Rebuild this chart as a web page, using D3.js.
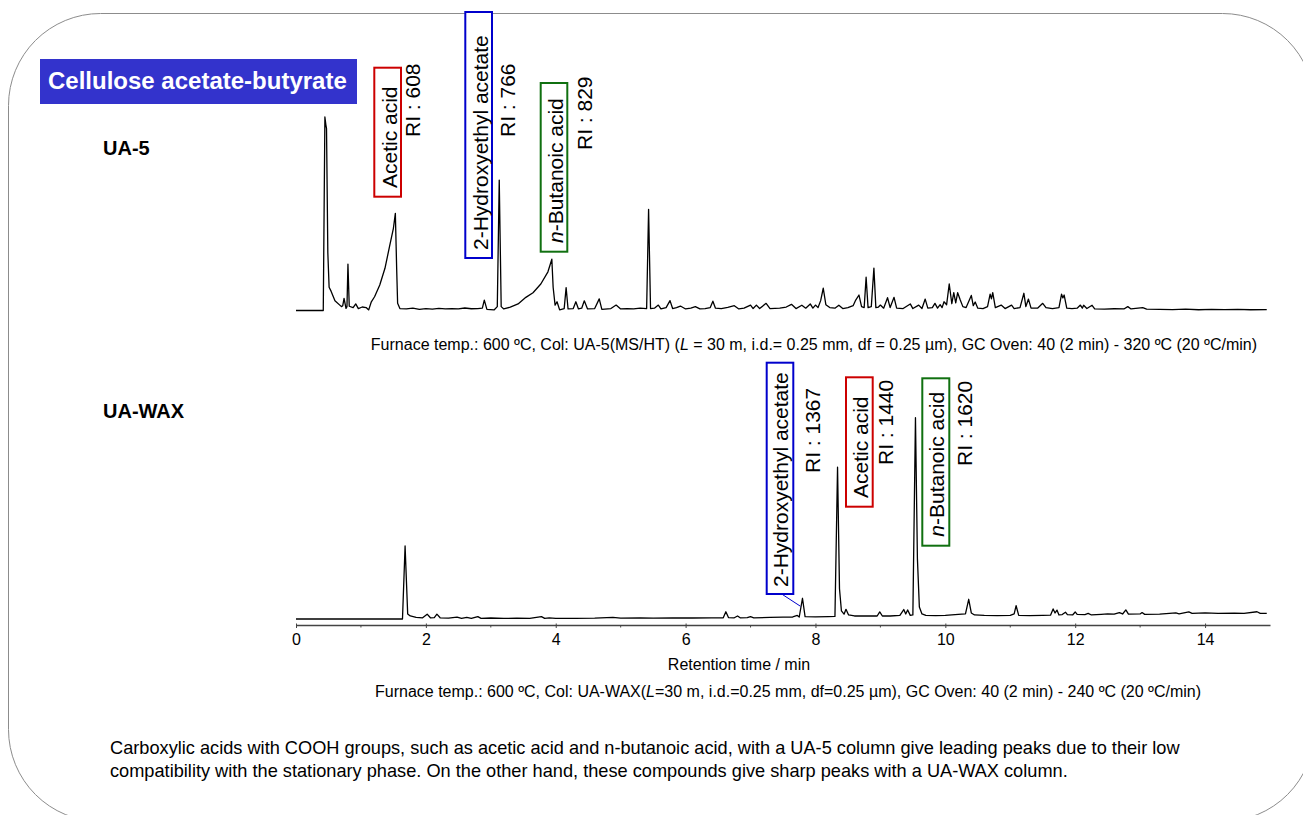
<!DOCTYPE html>
<html>
<head>
<meta charset="utf-8">
<script src="https://cdn.jsdelivr.net/npm/d3@7"></script>
<style>
    body { margin: 0; background: #fff; }
    svg text { font-family: "Liberation Sans", Arial, sans-serif; }
</style>
</head>
<body>
<svg id="chart" width="1303" height="815"></svg>
<script>
"use strict";

// ---- data ----
var sampleName = "Cellulose acetate-butyrate";
var columnNames = ["UA-5", "UA-WAX"];
var compounds = ["Acetic acid", "2-Hydroxyethyl acetate", "n-Butanoic acid"];
var ua5RI = [608, 766, 829];
var waxRI = [1440, 1367, 1620];
var xTicks = [0, 2, 4, 6, 8, 10, 12, 14];
var xMinorTicks = [1, 3, 5, 7, 9, 11, 13];
var xTitle = "Retention time / min";
var captions = [
    "Furnace temp.: 600 ºC, Col: UA-5(MS/HT) (|L| = 30 m, i.d.= 0.25 mm, df = 0.25 µm), GC Oven: 40 (2 min) - 320 ºC (20 ºC/min)",
    "Furnace temp.: 600 ºC, Col: UA-WAX(|L|=30 m, i.d.=0.25 mm, df=0.25 µm), GC Oven: 40 (2 min) - 240 ºC (20 ºC/min)"
];
var note = [
    "Carboxylic acids with COOH groups, such as acetic acid and n-butanoic acid, with a UA-5 column give leading peaks due to their low",
    "compatibility with the stationary phase. On the other hand, these compounds give sharp peaks with a UA-WAX column."
];

// [retention time (min), relative intensity]
var ua5Trace = [
    [0, 0], [0.3, 0], [0.42, 0], [0.445, 100], [0.46, 96], [0.47, 94], [0.49, 30], [0.51, 12], [0.54, 10],
    [0.6, 5], [0.7, 2], [0.72, 2.5], [0.74, 6.3], [0.77, 1.1], [0.785, 2], [0.8, 24], [0.82, 2.2], [0.88, 1.5],
    [0.92, 3.4], [0.96, 1], [1.02, 1.8], [1.08, 1.5], [1.12, 0.3], [1.16, 4.5], [1.21, 7.1], [1.29, 13.2],
    [1.37, 21.8], [1.44, 33], [1.5, 42.5], [1.53, 50.2], [1.55, 22], [1.565, 3.7], [1.6, 1], [1.7, 0.8],
    [1.8, 1.2], [1.9, 0.6], [2.0, 1], [2.1, 0.7], [2.2, 1.1], [2.3, 0.8], [2.4, 1], [2.5, 0.8], [2.6, 1.3],
    [2.7, 0.9], [2.8, 1], [2.87, 1.2], [2.9, 5.4], [2.94, 0.6], [3.05, 0.3], [3.1, 2], [3.13, 67.4], [3.16, 2],
    [3.2, 0.8], [3.3, 1.7], [3.42, 3.4], [3.54, 6.8], [3.65, 9.2], [3.77, 13.7], [3.88, 20], [3.94, 26.5],
    [3.96, 12], [3.99, 2.8], [4.02, 4.5], [4.06, 0.3], [4.13, 1], [4.16, 11.8], [4.19, 0.8], [4.27, 1],
    [4.31, 4.5], [4.35, 0.8], [4.4, 1.2], [4.44, 5], [4.49, 0.8], [4.6, 1], [4.67, 6], [4.71, 0.6], [4.85, 1],
    [4.93, 2.8], [5.0, 0.8], [5.1, 1], [5.2, 0.8], [5.3, 1.2], [5.4, 1], [5.43, 52.3], [5.46, 1], [5.52, 1.2],
    [5.58, 2.8], [5.62, 0.8], [5.7, 1.5], [5.76, 5.1], [5.8, 1], [5.86, 1.5], [5.92, 2.3], [6.0, 0.8],
    [6.08, 1.2], [6.15, 2], [6.22, 0.8], [6.3, 1], [6.38, 1.5], [6.42, 4.8], [6.46, 1.2], [6.55, 1],
    [6.65, 1.6], [6.75, 2.5], [6.82, 0.8], [6.9, 1.2], [7.0, 2.8], [7.04, 1], [7.09, 2.8], [7.14, 1],
    [7.24, 3.7], [7.3, 1], [7.45, 1.2], [7.55, 1.8], [7.63, 3.2], [7.7, 1], [7.79, 2.7], [7.85, 1.2],
    [7.92, 3.4], [7.96, 1.2], [8.0, 2.8], [8.04, 1.5], [8.08, 5.1], [8.12, 11.5], [8.16, 3], [8.22, 1.5],
    [8.3, 1.2], [8.36, 2.7], [8.42, 1], [8.5, 1.5], [8.58, 2.5], [8.62, 5.4], [8.67, 8], [8.71, 2],
    [8.75, 1.5], [8.78, 17.2], [8.81, 1.5], [8.86, 2], [8.9, 21.9], [8.93, 1.5], [8.97, 1.8], [9.0, 2.8],
    [9.05, 1.2], [9.11, 6.6], [9.15, 1.5], [9.21, 6.8], [9.25, 1.2], [9.35, 1], [9.46, 3.4], [9.5, 1],
    [9.59, 2.8], [9.64, 1], [9.69, 5.9], [9.73, 1.2], [9.8, 1.5], [9.84, 3.7], [9.88, 1.2], [9.92, 3],
    [9.95, 1.5], [9.98, 4.5], [10.02, 3], [10.06, 13.7], [10.1, 3.5], [10.13, 9.2], [10.16, 4], [10.19, 9.2],
    [10.23, 5.4], [10.27, 2], [10.32, 1.5], [10.4, 7.8], [10.43, 2.5], [10.46, 4.4], [10.5, 1.2], [10.58, 1],
    [10.65, 2], [10.69, 8.5], [10.71, 6], [10.73, 9.2], [10.77, 1.5], [10.86, 2.8], [10.92, 1], [11.02, 2.8],
    [11.06, 1], [11.15, 1.5], [11.21, 8.9], [11.24, 2], [11.28, 5.9], [11.32, 1.2], [11.42, 1.2], [11.5, 3.7],
    [11.55, 1.5], [11.65, 1], [11.75, 1.5], [11.79, 8.4], [11.81, 6.5], [11.83, 8], [11.87, 1.2], [11.95, 1],
    [12.03, 1.2], [12.08, 2.8], [12.11, 1.2], [12.13, 2.7], [12.18, 1], [12.26, 2.7], [12.3, 0.8], [12.45, 0.7],
    [12.6, 0.9], [12.75, 0.8], [12.81, 2], [12.86, 0.8], [13.04, 1.5], [13.1, 0.7], [13.3, 0.6], [13.5, 0.5],
    [13.7, 0.7], [13.9, 0.4], [14.1, 0.6], [14.3, 0.5], [14.5, 0.6], [14.7, 0.4], [14.95, 0.5]
];

var waxTrace = [
    [0, 0], [0.5, 0], [1.0, 0], [1.5, 0], [1.64, 0], [1.68, 36.3], [1.72, 2.5], [1.76, 1.5], [1.85, 0.8],
    [1.95, 0.6], [2.02, 2.4], [2.07, 0.6], [2.13, 0.7], [2.17, 2.4], [2.22, 0.6], [2.35, 0.4], [2.48, 0.9],
    [2.55, 0.3], [2.63, 0.8], [2.7, 0.3], [2.8, 1.2], [2.85, 0.3], [3.0, 0.5], [3.2, 0.3], [3.4, 0.4],
    [3.6, 0.3], [3.78, 1.2], [3.83, 0.3], [3.9, 0.6], [4.0, 0.3], [4.3, 0.3], [4.6, 0.4], [4.88, 0.8],
    [5.0, 0.4], [5.3, 0.6], [5.5, 0.4], [5.8, 0.5], [6.1, 0.5], [6.4, 0.6], [6.58, 0.6], [6.62, 3.6],
    [6.66, 0.7], [6.75, 0.6], [6.8, 1.5], [6.84, 0.6], [6.95, 0.7], [7.0, 1.2], [7.05, 0.6], [7.3, 0.8],
    [7.5, 0.9], [7.65, 1], [7.72, 1.8], [7.75, 1], [7.8, 10.3], [7.84, 1.2], [8.0, 1.1], [8.2, 1.2],
    [8.3, 1.3], [8.34, 75.4], [8.37, 15], [8.4, 4], [8.44, 2.4], [8.47, 4.8], [8.51, 2], [8.6, 1.5],
    [8.75, 1.6], [8.85, 1.5], [8.95, 1.5], [8.99, 3.5], [9.03, 1.5], [9.15, 1.5], [9.3, 1.8], [9.36, 4.7],
    [9.39, 2.5], [9.42, 4.5], [9.46, 1.8], [9.5, 2], [9.54, 100], [9.57, 30], [9.6, 6], [9.64, 2.5],
    [9.7, 1.8], [9.85, 1.7], [10.0, 1.8], [10.2, 2.3], [10.31, 2.5], [10.36, 9.8], [10.4, 3], [10.45, 2],
    [10.6, 1.8], [10.8, 1.7], [11.0, 1.8], [11.06, 2.5], [11.09, 6.6], [11.13, 1.8], [11.3, 1.7], [11.5, 1.8],
    [11.62, 1.9], [11.66, 5], [11.69, 3], [11.72, 4.4], [11.75, 2], [11.8, 2.2], [11.85, 3.4], [11.88, 2.2],
    [11.96, 2], [12.0, 3.5], [12.03, 2.3], [12.15, 2.2], [12.2, 2.8], [12.25, 2], [12.4, 2.3], [12.5, 2.5],
    [12.6, 2.4], [12.68, 3.2], [12.73, 2.5], [12.78, 4.5], [12.82, 2.4], [13.0, 2.5], [13.03, 3.2],
    [13.07, 2.3], [13.3, 2.4], [13.45, 2.8], [13.55, 3], [13.6, 2.5], [13.75, 3.5], [13.8, 2.8], [14.0, 3],
    [14.2, 2.8], [14.45, 2.9], [14.6, 2.8], [14.8, 3.6], [14.85, 2.8], [14.95, 2.8]
];

// ---- layout ----
var FONT_LABEL = 21,
    svg = d3.select("#chart"),
    boxColors = ["#cc0000", "#0000cc", "#107010"];

var x = d3.scaleLinear().domain([0, 15]).range([296, 1270]),
    yUa5 = d3.scaleLinear().domain([0, 100]).range([310.5, 117]),
    yWax = d3.scaleLinear().domain([0, 100]).range([619, 417.7]);

// frame
svg.append("rect")
    .attr("x", 8.5).attr("y", 13.5)
    .attr("width", 1306).attr("height", 808)
    .attr("rx", 92).attr("ry", 92)
    .attr("fill", "none")
    .attr("stroke", "#8c8c8c")
    .attr("stroke-width", 1);

// title
svg.append("rect")
    .attr("x", 40).attr("y", 59)
    .attr("width", 317).attr("height", 45)
    .attr("fill", "#3333cc");
svg.append("text")
    .attr("x", 48).attr("y", 89)
    .attr("font-size", 24)
    .attr("font-weight", "bold")
    .attr("fill", "#fff")
    .text(sampleName);

svg.selectAll("text.column")
    .data(columnNames)
    .enter()
    .append("text")
    .attr("class", "column")
    .attr("x", 103)
    .attr("y", function (d, i) { return [155, 418][i]; })
    .attr("font-size", 20)
    .attr("font-weight", "bold")
    .text(function (d) { return d; });

// traces
var drawTrace = function (data, yScale) {
    var line = d3.line()
        .x(function (d) { return x(d[0]); })
        .y(function (d) { return yScale(d[1]); });
    svg.append("path")
        .datum(data)
        .attr("d", line)
        .attr("fill", "none")
        .attr("stroke", "#000")
        .attr("stroke-width", 1.3)
        .attr("stroke-linejoin", "round");
};
drawTrace(ua5Trace, yUa5);
drawTrace(waxTrace, yWax);

// axis
var axisY = 625;
var axis = svg.append("g")
    .attr("transform", "translate(0," + axisY + ")")
    .call(d3.axisBottom(x).tickValues(xTicks).tickSize(3).tickSizeOuter(0).tickPadding(6));
axis.select(".domain").attr("stroke", "#444").attr("stroke-width", 1.3);
axis.selectAll(".tick line").attr("stroke", "#444").attr("y1", -1.5);
axis.selectAll(".tick text")
    .attr("font-size", 16)
    .attr("font-family", "Liberation Sans, Arial, sans-serif")
    .attr("fill", "#000");
svg.append("g")
    .selectAll("line")
    .data(xMinorTicks)
    .enter()
    .append("line")
    .attr("x1", function (d) { return x(d); })
    .attr("x2", function (d) { return x(d); })
    .attr("y1", axisY)
    .attr("y2", axisY + 2.5)
    .attr("stroke", "#444");

svg.append("text")
    .attr("x", 739).attr("y", 670)
    .attr("text-anchor", "middle")
    .attr("font-size", 16)
    .text(xTitle);

// captions, "|L|" marks the italic letter
var writeRich = function (sel, str) {
    str.split("|").forEach(function (part, i) {
        sel.append("tspan")
            .attr("font-style", i % 2 ? "italic" : null)
            .text(part);
    });
};
writeRich(svg.append("text").attr("x", 1257).attr("y", 350).attr("text-anchor", "end").attr("font-size", 16), captions[0]);
writeRich(svg.append("text").attr("x", 375).attr("y", 697).attr("font-size", 16), captions[1]);

svg.selectAll("text.note")
    .data(note)
    .enter()
    .append("text")
    .attr("class", "note")
    .attr("x", 110)
    .attr("y", function (d, i) { return 754 + i * 23; })
    .attr("font-size", 18.2)
    .text(function (d) { return d; });

// rotated compound labels
var drawLabel = function (o) {
    var g = svg.append("g");
    g.append("rect")
        .attr("x", o.box[0]).attr("y", o.box[1])
        .attr("width", o.box[2] - o.box[0]).attr("height", o.box[3] - o.box[1])
        .attr("fill", "#fff")
        .attr("stroke", o.color)
        .attr("stroke-width", 2);
    var t = g.append("text")
        .attr("transform", "translate(" + o.nameX + "," + o.nameY + ") rotate(-90)")
        .attr("font-size", FONT_LABEL);
    if (o.name.indexOf("n-") === 0) {
        t.append("tspan").attr("font-style", "italic").text("n");
        t.append("tspan").text(o.name.slice(1));
    } else {
        t.text(o.name);
    }
    g.append("text")
        .attr("transform", "translate(" + o.riX + "," + o.riY + ") rotate(-90)")
        .attr("font-size", FONT_LABEL)
        .text("RI : " + o.ri);
};

var ua5Layout = [
    { box: [374.3, 67.7, 401, 196.7], nameX: 397, nameY: 188, riX: 420, riY: 137 },
    { box: [465.3, 12, 492, 258], nameX: 487.5, nameY: 250, riX: 515, riY: 137 },
    { box: [540.7, 83, 567.3, 251.7], nameX: 562.5, nameY: 243, riX: 592, riY: 150 }
];
var waxLayout = [
    { box: [846, 377.3, 872.7, 506.7], nameX: 868, nameY: 498, riX: 893.3, riY: 465 },
    { box: [766.7, 362.7, 793.3, 594], nameX: 788.3, nameY: 587, riX: 820, riY: 473 },
    { box: [922.3, 378.3, 949.3, 545.7], nameX: 944.3, nameY: 536.7, riX: 971.7, riY: 466 }
];

// leader from the 2-hydroxyethyl acetate box to its UA-WAX peak
svg.append("line")
    .attr("x1", 781.7).attr("y1", 594)
    .attr("x2", x(7.8) - 2).attr("y2", yWax(10.3) + 8)
    .attr("stroke", "#0000cc")
    .attr("stroke-width", 1);

compounds.forEach(function (name, i) {
    drawLabel({ name: name, ri: ua5RI[i], color: boxColors[i], box: ua5Layout[i].box,
        nameX: ua5Layout[i].nameX, nameY: ua5Layout[i].nameY, riX: ua5Layout[i].riX, riY: ua5Layout[i].riY });
    drawLabel({ name: name, ri: waxRI[i], color: boxColors[i], box: waxLayout[i].box,
        nameX: waxLayout[i].nameX, nameY: waxLayout[i].nameY, riX: waxLayout[i].riX, riY: waxLayout[i].riY });
});
</script>
</body>
</html>
